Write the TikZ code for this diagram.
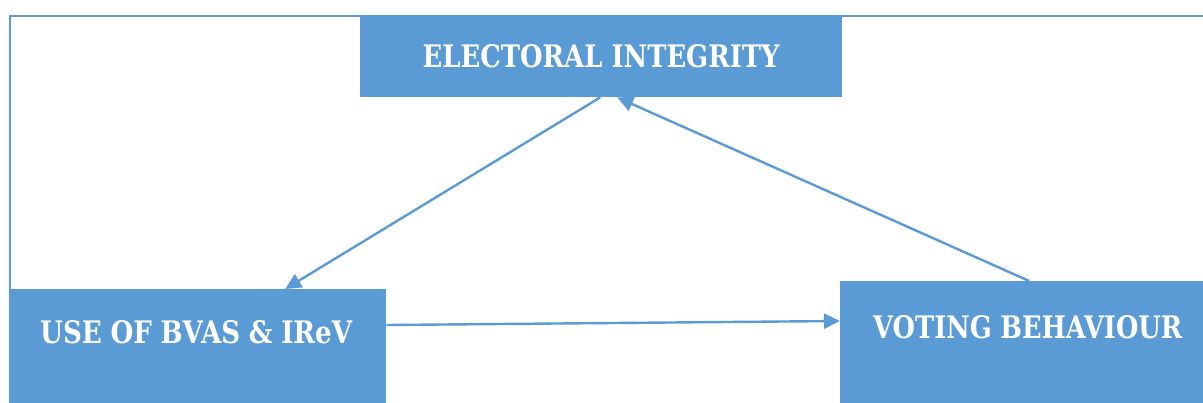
\documentclass[tikz,border=0pt]{standalone}
\usepackage{fontspec}
\newfontfamily\boxfont{DejaVu Serif}
\usetikzlibrary{arrows.meta}
\definecolor{boxblue}{HTML}{5B9BD5}
\begin{document}
\begin{tikzpicture}[x=1pt,y=-1pt,
  box/.style={fill=boxblue,draw=none,inner sep=0pt,text=white,
    font=\boxfont\fontsize{31}{33}\selectfont\bfseries,anchor=north west},
  conn/.style={draw=boxblue,line width=2.4pt,-{Triangle[length=16pt,width=15pt]}}]
\useasboundingbox (0,0) rectangle (1203,402);
\draw[boxblue,line width=2.4pt] (10,16) rectangle (1240,440);
\node[box,minimum width=482pt,minimum height=81pt] (top) at (360,16)
  {\resizebox{357pt}{\height}{ELECTORAL INTEGRITY}};
\node[box,text width=376pt,align=center,text height=54pt,text depth=100pt] (left) at (10,289)
  {\hspace*{-4pt}\resizebox{312pt}{\height}{USE OF BVAS \& IReV}};
\node[box,text width=380pt,align=center,text height=57pt,text depth=100pt] (right) at (840,281)
  {\hspace*{-5pt}\resizebox{309pt}{\height}{VOTING BEHAVIOUR}};
\draw[conn] ([xshift=-1pt]top.south) -- ([xshift=87pt]left.north);
\draw[conn] ([xshift=-1pt]right.north) -- ([xshift=16pt]top.south);
\draw[conn] ([yshift=-36pt]left.north east) -- ([yshift=-40pt]right.north west);
\end{tikzpicture}
\end{document}
